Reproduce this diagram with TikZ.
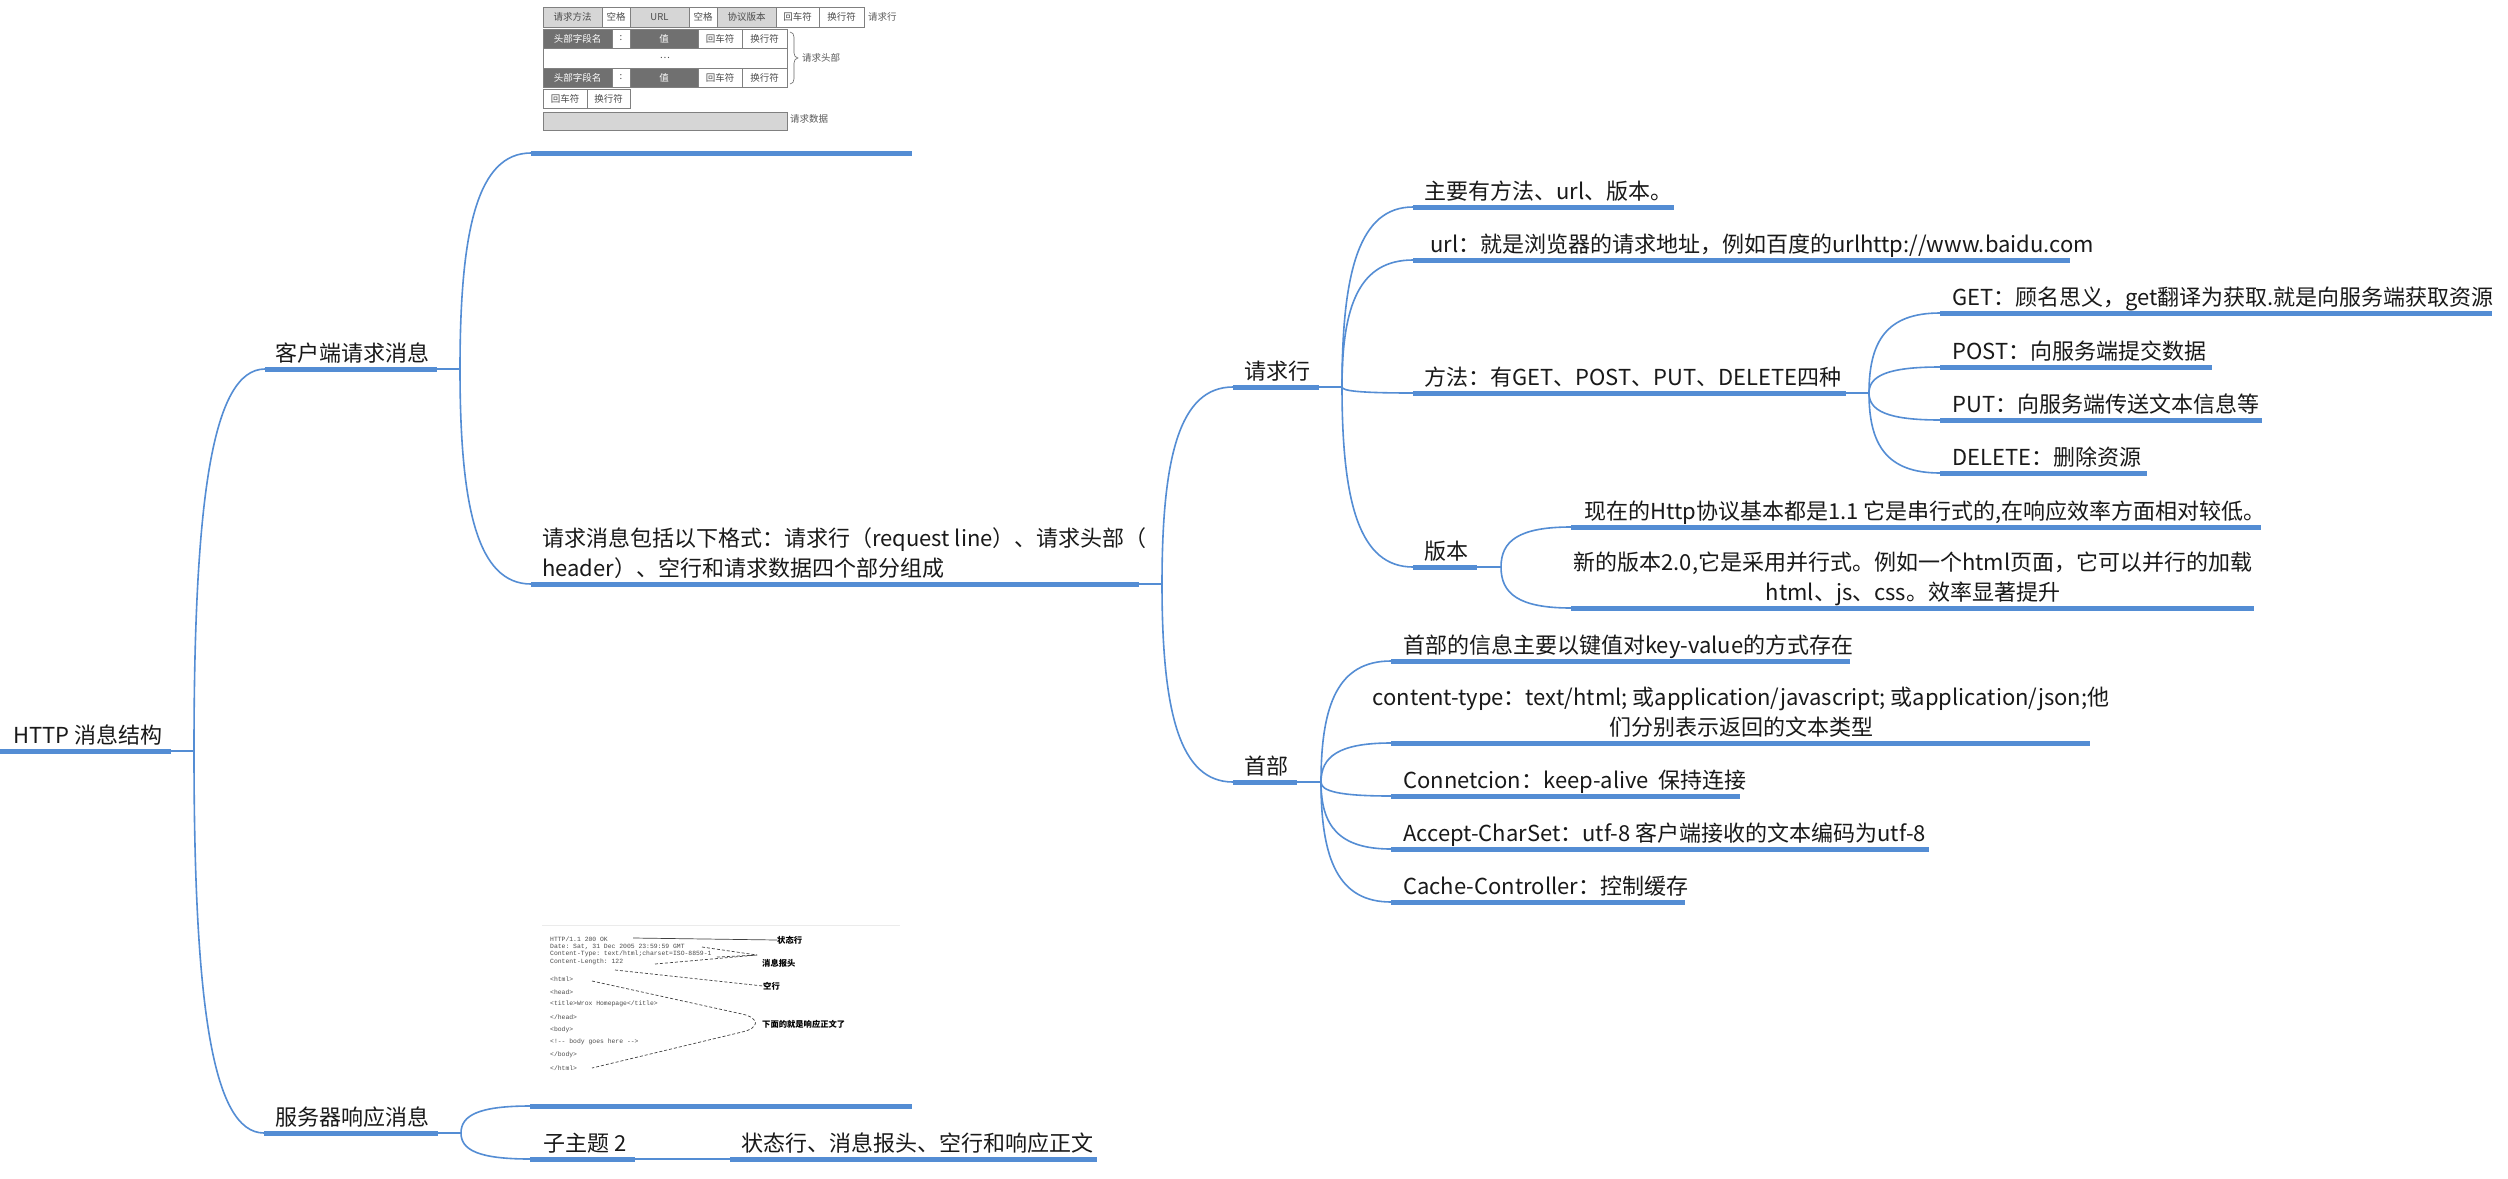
\documentclass[tikz,border=0pt]{standalone}
\usepackage{fontspec}
\setmainfont{Noto Sans CJK SC}
\setmonofont{Liberation Mono}
\usetikzlibrary{calc}
\definecolor{mmblue}{RGB}{84,141,212}
\definecolor{tlight}{RGB}{214,214,214}
\definecolor{tdark}{RGB}{112,112,112}
\definecolor{ink}{RGB}{25,25,25}
\tikzset{
  ul/.style={draw=mmblue, line width=5pt},
  conn/.style={draw=mmblue, line width=1.6pt},
  txt/.style={inner sep=0pt, font=\fontsize{22}{30}\selectfont, text=ink, anchor=base west},
  tbl/.style={draw=black!50, line width=0.6pt},
  tcell/.style={inner sep=0pt, font=\fontsize{9.5}{10}\selectfont, text=black!70},
  tlabel/.style={inner sep=0pt, font=\fontsize{9.5}{10}\selectfont, text=black!65, anchor=west},
  code/.style={inner sep=0pt, font=\ttfamily\fontsize{6.4}{7}\selectfont, text=black!70, anchor=west},
  rlabel/.style={inner sep=0pt, font=\bfseries\fontsize{8.3}{9}\selectfont, text=black, anchor=west},
  pointer/.style={draw=black!75, line width=0.7pt},
  dpointer/.style={draw=black!75, line width=0.7pt, dash pattern=on 3pt off 2pt},
}
\newcommand\mmbranch[2]{\draw[conn] (#1) .. controls ($(#1)!0.65!(#1|-#2)$) and ($(#1|-#2)!0.25!(#2)$) .. (#2);}
\newcommand\mmtopic[6]{%
  \draw[ul] (#2,#4) coordinate (#1L) -- (#3,#4) coordinate (#1R);
  \node[txt] (#1) at (#5,#4-8) {#6};}
\newcommand\tcellbox[7]{%
  \draw[tbl, fill=#5] (#1,#2) rectangle (#3,#4);
  \node[tcell, text=#6] (#7) at ($(#1,#2)!0.5!(#3,#4)$) {\csname cell#7\endcsname};}
\expandafter\def\csname cellra\endcsname{请求方法}
\expandafter\def\csname cellrb\endcsname{空格}
\expandafter\def\csname cellrc\endcsname{URL}
\expandafter\def\csname cellrd\endcsname{空格}
\expandafter\def\csname cellre\endcsname{协议版本}
\expandafter\def\csname cellrf\endcsname{回车符}
\expandafter\def\csname cellrg\endcsname{换行符}
\expandafter\def\csname cellha\endcsname{头部字段名}
\expandafter\def\csname cellhb\endcsname{:}
\expandafter\def\csname cellhc\endcsname{值}
\expandafter\def\csname cellhd\endcsname{回车符}
\expandafter\def\csname cellhe\endcsname{换行符}
\expandafter\def\csname cellmid\endcsname{…}
\expandafter\def\csname cellka\endcsname{头部字段名}
\expandafter\def\csname cellkb\endcsname{:}
\expandafter\def\csname cellkc\endcsname{值}
\expandafter\def\csname cellkd\endcsname{回车符}
\expandafter\def\csname cellke\endcsname{换行符}
\expandafter\def\csname cellea\endcsname{回车符}
\expandafter\def\csname celleb\endcsname{换行符}
\expandafter\def\csname celldata\endcsname{}
\begin{document}
\begin{tikzpicture}[x=1pt, y=-1pt]
\useasboundingbox[fill=white] (0,0) rectangle (2508,1178);

% ---------- request format picture ----------
\tcellbox{543}{7}{602}{27}{tlight}{black!70}{ra}
\tcellbox{602}{7}{630}{27}{white}{black!70}{rb}
\tcellbox{630}{7}{689}{27}{tlight}{black!70}{rc}
\tcellbox{689}{7}{717}{27}{white}{black!70}{rd}
\tcellbox{717}{7}{776}{27}{tlight}{black!70}{re}
\tcellbox{776}{7}{819}{27}{white}{black!70}{rf}
\tcellbox{819}{7}{864}{27}{white}{black!70}{rg}
\node[tlabel] (lblrl) at (868,17) {请求行};
\tcellbox{543}{29}{612}{48}{tdark}{white}{ha}
\tcellbox{612}{29}{630}{48}{white}{black!70}{hb}
\tcellbox{630}{29}{698}{48}{tdark}{white}{hc}
\tcellbox{698}{29}{742}{48}{white}{black!70}{hd}
\tcellbox{742}{29}{787}{48}{white}{black!70}{he}
\tcellbox{543}{48}{787}{68}{white}{black!70}{mid}
\tcellbox{543}{68}{612}{87}{tdark}{white}{ka}
\tcellbox{612}{68}{630}{87}{white}{black!70}{kb}
\tcellbox{630}{68}{698}{87}{tdark}{white}{kc}
\tcellbox{698}{68}{742}{87}{white}{black!70}{kd}
\tcellbox{742}{68}{787}{87}{white}{black!70}{ke}
\tcellbox{543}{89}{587}{108}{white}{black!70}{ea}
\tcellbox{587}{89}{630}{108}{white}{black!70}{eb}
\tcellbox{543}{112}{787}{130}{tlight}{black!70}{data}
\draw[black!60, line width=0.6pt] (790,32) to[out=0,in=90] (794,37) -- (794,53) to[out=-90,in=180] (798,58) to[out=180,in=90] (794,63) -- (794,79) to[out=-90,in=0] (790,84);
\node[tlabel] (lblhd) at (802,58) {请求头部};
\node[tlabel] (lbldata) at (790,119) {请求数据};

% ---------- response picture ----------
\draw[black!8, line width=1pt] (542,925) -- (900,925);
\node[code] (l1) at (550,939) {HTTP/1.1 200 OK};
\node[code] (l2) at (550,946.7) {Date: Sat, 31 Dec 2005 23:59:59 GMT};
\node[code] (l3) at (550,954.3) {Content-Type: text/html;charset=ISO-8859-1};
\node[code] (l4) at (550,961.7) {Content-Length: 122};
\node[code] (l5) at (550,979) {<html>};
\node[code] (l6) at (550,992) {<head>};
\node[code] (l7) at (550,1004) {<title>Wrox Homepage</title>};
\node[code] (l8) at (550,1017) {</head>};
\node[code] (l9) at (550,1030) {<body>};
\node[code] (l10) at (550,1042) {<!-- body goes here -->};
\node[code] (l11) at (550,1055) {</body>};
\node[code] (l12) at (550,1068) {</html>};
\node[rlabel] (s1) at (777,940) {状态行};
\node[rlabel] (s2) at (762,963) {消息报头};
\node[rlabel] (s3) at (763,986) {空行};
\node[rlabel] (s4) at (762,1024) {下面的就是响应正文了};
\coordinate (p0) at (757,955);
\draw[pointer] (633,938) -- (s1.west);
\draw[dpointer] (702,947) -- (p0);
\draw[dpointer] (717,957) -- (p0);
\draw[dpointer] (655,964) -- (p0);
\draw[dpointer] (615,970) -- (s3.west);
\draw[dpointer] (592,981) -- (742,1014) .. controls (760,1018) and (760,1028) .. (742,1032) -- (592,1068);

% ---------- mind map ----------
\mmtopic{root}{0}{171}{751}{13}{HTTP 消息结构}
\coordinate (J0) at (194,751);
\mmtopic{c1}{265}{437}{369}{275}{客户端请求消息}
\coordinate (J1) at (460,369);
\draw[ul] (531,153) coordinate (c1aL) -- (912,153) coordinate (c1aR);
\draw[ul] (531,584) coordinate (c1bL) -- (1139,584) coordinate (c1bR);
\node[txt, align=left] (c1b) at (542,576) {请求消息包括以下格式：请求行（request line）、请求头部（\\header）、空行和请求数据四个部分组成};
\coordinate (J2) at (1162,584);
\mmtopic{rl}{1233}{1319}{387}{1244}{请求行}
\coordinate (J3) at (1342,387);
\mmtopic{rla}{1413}{1674}{207}{1424}{主要有方法、url、版本。}
\mmtopic{rlb}{1413}{2070}{260}{1430}{url：就是浏览器的请求地址，例如百度的urlhttp://www.baidu.com}
\mmtopic{rlc}{1413}{1846}{393}{1424}{方法：有GET、POST、PUT、DELETE四种}
\coordinate (J4) at (1869,393);
\mmtopic{mget}{1940}{2492}{313}{1952}{GET：顾名思义，get翻译为获取.就是向服务端获取资源}
\mmtopic{mpost}{1940}{2212}{367}{1952}{POST：向服务端提交数据}
\mmtopic{mput}{1940}{2262}{420}{1952}{PUT：向服务端传送文本信息等}
\mmtopic{mdel}{1940}{2147}{473}{1952}{DELETE：删除资源}
\mmtopic{rld}{1413}{1477}{567}{1424}{版本}
\coordinate (J5) at (1501,567);
\mmtopic{va}{1571}{2261}{527}{1584}{现在的Http协议基本都是1.1 它是串行式的,在响应效率方面相对较低。}
\draw[ul] (1571,608) coordinate (vbL) -- (2254,608) coordinate (vbR);
\node[txt, align=center, anchor=base] (vb) at (1913,600) {新的版本2.0,它是采用并行式。例如一个html页面，它可以并行的加载\\html、js、css。效率显著提升};
\mmtopic{hd}{1233}{1297}{782}{1244}{首部}
\coordinate (J6) at (1321,782);
\mmtopic{hda}{1391}{1850}{661}{1403}{首部的信息主要以键值对key-value的方式存在}
\draw[ul] (1391,743) coordinate (hdbL) -- (2090,743) coordinate (hdbR);
\node[txt, align=center, anchor=base] (hdb) at (1741,735) {content-type：text/html; 或application/javascript; 或application/json;他\\们分别表示返回的文本类型};
\mmtopic{hdc}{1391}{1740}{796}{1403}{Connetcion：keep-alive~~保持连接}
\mmtopic{hdd}{1391}{1929}{849}{1403}{Accept-CharSet：utf-8 客户端接收的文本编码为utf-8}
\mmtopic{hde}{1391}{1685}{902}{1403}{Cache-Controller：控制缓存}
\mmtopic{c2}{264}{438}{1133}{275}{服务器响应消息}
\coordinate (J7) at (461,1133);
\draw[ul] (530,1106) coordinate (c2aL) -- (912,1106) coordinate (c2aR);
\mmtopic{c2b}{530}{635}{1159}{543}{子主题 2}
\mmtopic{c2c}{730}{1097}{1159}{741}{状态行、消息报头、空行和响应正文}

% connectors
\draw[conn] (rootR) -- (J0);
\mmbranch{J0}{c1L}
\mmbranch{J0}{c2L}
\draw[conn] (c1R) -- (J1);
\mmbranch{J1}{c1aL}
\mmbranch{J1}{c1bL}
\draw[conn] (c1bR) -- (J2);
\mmbranch{J2}{rlL}
\mmbranch{J2}{hdL}
\draw[conn] (rlR) -- (J3);
\mmbranch{J3}{rlaL}
\mmbranch{J3}{rlbL}
\mmbranch{J3}{rlcL}
\mmbranch{J3}{rldL}
\draw[conn] (rlcR) -- (J4);
\mmbranch{J4}{mgetL}
\mmbranch{J4}{mpostL}
\mmbranch{J4}{mputL}
\mmbranch{J4}{mdelL}
\draw[conn] (rldR) -- (J5);
\mmbranch{J5}{vaL}
\mmbranch{J5}{vbL}
\draw[conn] (hdR) -- (J6);
\mmbranch{J6}{hdaL}
\mmbranch{J6}{hdbL}
\mmbranch{J6}{hdcL}
\mmbranch{J6}{hddL}
\mmbranch{J6}{hdeL}
\draw[conn] (c2R) -- (J7);
\mmbranch{J7}{c2aL}
\mmbranch{J7}{c2bL}
\draw[conn] (c2bR) -- (c2cL);
\end{tikzpicture}
\end{document}
